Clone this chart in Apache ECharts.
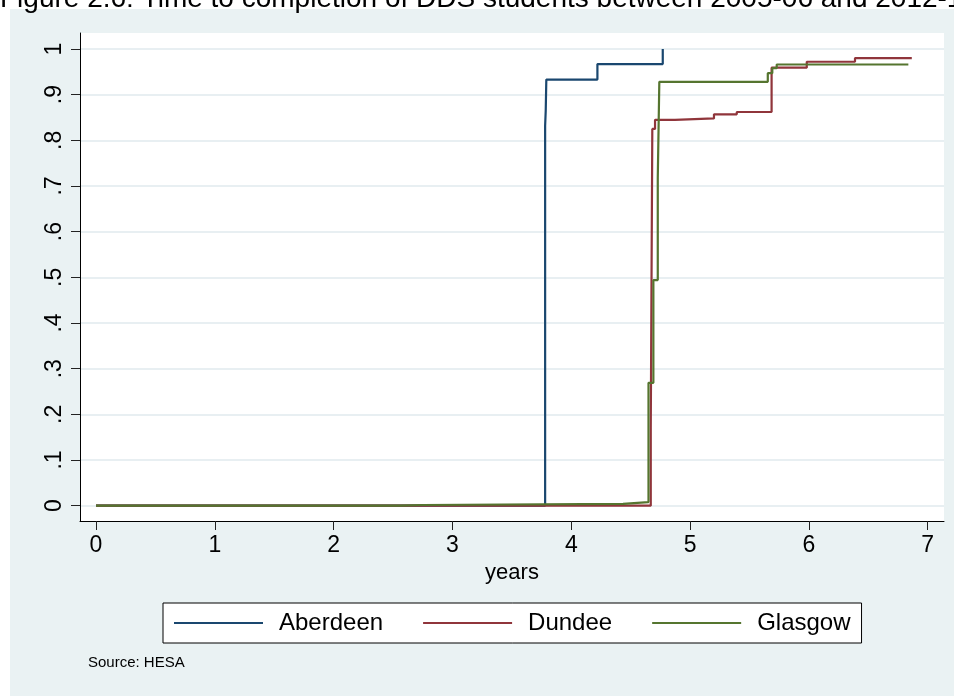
<!DOCTYPE html>
<html>
<head>
<meta charset="utf-8">
<script src="https://cdn.jsdelivr.net/npm/echarts@6/dist/echarts.min.js"></script>
<style>
  html, body { margin: 0; padding: 0; background: #fff; }
  #chart { width: 954px; height: 696px; }
</style>
</head>
<body>
<div id="chart"></div>
<script>
// Tick positions
const xTicks = [0, 1, 2, 3, 4, 5, 6, 7];
const yTicks = [0, 0.1, 0.2, 0.3, 0.4, 0.5, 0.6, 0.7, 0.8, 0.9, 1];

const seriesNames = ['Aberdeen', 'Dundee', 'Glasgow'];

// Cumulative share completed, stepping up at each time point (years)
const aberdeenYears = [0, 3.78, 3.785, 3.79, 4.22, 4.77];
const aberdeenShare = [0, 0.832, 0.865, 0.933, 0.967, 1.0];

const dundeeYears = [0, 4.669, 4.682, 4.705, 4.873, 5.201, 5.393, 5.686, 5.982, 6.388, 6.866];
const dundeeShare = [0, 0.170, 0.825, 0.845, 0.848, 0.857, 0.862, 0.959, 0.972, 0.980, 0.980];

const glasgowYears = [0, 2.56, 2.75, 4.436, 4.65, 4.691, 4.728, 4.741, 5.654, 5.692, 5.729, 6.837];
const glasgowShare = [0, 0.0015, 0.004, 0.008, 0.269, 0.494, 0.718, 0.928, 0.947, 0.958, 0.966, 0.966];

const FONT = "'Liberation Sans', Arial, sans-serif";
const colors = ['#1a476f', '#90353b', '#55752f'];

function pairs(xs, ys) { return xs.map((x, i) => [x, ys[i]]); }

const seriesData = [
  pairs(aberdeenYears, aberdeenShare),
  pairs(dundeeYears, dundeeShare),
  pairs(glasgowYears, glasgowShare)
];

const chart = echarts.init(document.getElementById('chart'), null, { renderer: 'canvas' });

chart.setOption({
  animation: false,
  backgroundColor: '#ffffff',
  textStyle: { fontFamily: FONT },
  graphic: [
    {
      type: 'text', left: 0, top: -15, z: 0,
      style: {
        text: 'Figure 2.6: Time to completion of DDS students between 2005-06 and 2012-13',
        font: '28px ' + FONT, fill: '#000'
      }
    },
    {
      type: 'rect', left: 10, top: 9, z: -10, silent: true,
      shape: { width: 944, height: 687 },
      style: { fill: '#eaf2f3' }
    },
    {
      type: 'text', left: 88, top: 655, z: 1,
      style: { text: 'Source: HESA', font: '15px ' + FONT, fill: '#000' }
    }
  ],
  grid: {
    left: 80, right: 10, top: 33, bottom: 175,
    show: true, backgroundColor: '#ffffff', borderWidth: 0
  },
  legend: {
    data: seriesNames,
    left: 163, top: 603,
    orient: 'horizontal',
    padding: [8, 11],
    itemGap: 40,
    itemWidth: 89, itemHeight: 2,
    icon: 'rect',
    backgroundColor: '#ffffff',
    borderColor: '#000', borderWidth: 1, borderRadius: 0,
    textStyle: { fontSize: 24, color: '#000', fontFamily: FONT, padding: [0, 0, 0, 11] }
  },
  xAxis: {
    type: 'value',
    min: -0.1347, max: 7.137,
    name: 'years',
    nameLocation: 'middle',
    nameGap: 40,
    nameTextStyle: { fontSize: 22, color: '#000', fontFamily: FONT },
    axisLine: { show: true, onZero: false, lineStyle: { color: '#000', width: 1 } },
    axisTick: { show: true, length: 9, customValues: xTicks, lineStyle: { color: '#222', width: 1 } },
    axisLabel: { customValues: xTicks, fontSize: 23, color: '#000', margin: 13, fontFamily: FONT },
    splitLine: { show: false }
  },
  yAxis: {
    type: 'value',
    min: -0.0335, max: 1.035,
    axisLine: { show: true, onZero: false, lineStyle: { color: '#000', width: 1 } },
    axisTick: { show: true, length: 9, customValues: yTicks, lineStyle: { color: '#222', width: 1 } },
    axisLabel: {
      customValues: yTicks, fontSize: 23, color: '#000', margin: 14, rotate: 90, fontFamily: FONT,
      formatter: v => {
        if (v === 0) return '0';
        if (v === 1) return '1';
        return v.toFixed(1).replace(/^0/, '');
      }
    },
    splitLine: { show: true, lineStyle: { color: '#e8eff2', width: 2 } }
  },
  series: seriesNames.map((name, i) => ({
    name,
    type: 'line',
    step: 'end',
    data: seriesData[i],
    showSymbol: false,
    symbol: 'none',
    color: colors[i],
    lineStyle: { color: colors[i], width: 2.2 },
    z: 2 + i
  }))
});
</script>
</body>
</html>
